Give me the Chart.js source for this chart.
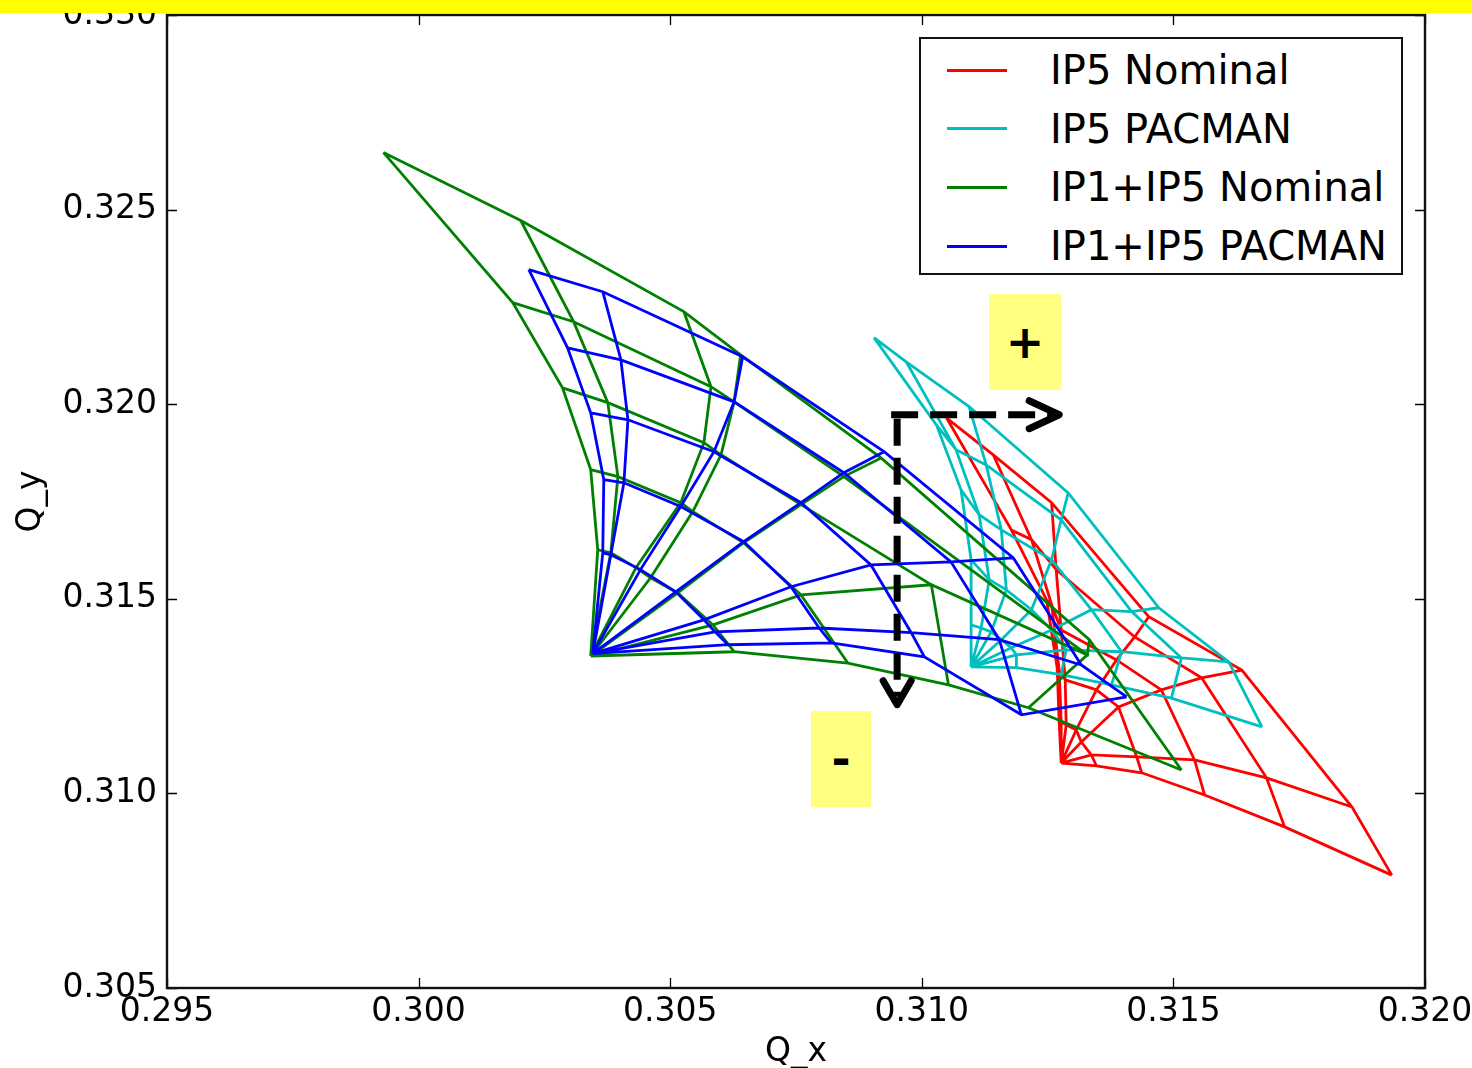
<!DOCTYPE html>
<html>
<head>
<meta charset="utf-8">
<script src="https://cdn.jsdelivr.net/npm/chart.js@4.4.1/dist/chart.umd.min.js"></script>
<style>
  html, body { margin: 0; padding: 0; background: #fff; }
  #wrap { position: relative; width: 1472px; height: 1068px; font-family: "DejaVu Sans", sans-serif; }
  #topband { position: absolute; left: 0; top: 0; width: 1472px; height: 13px; background: #ffff00; }
  .note { position: absolute; background: #ffff80; color: #000; font: bold 46px "DejaVu Sans", sans-serif;
          display: flex; align-items: center; justify-content: center; }
  #legend { position: absolute; left: 919px; top: 37px; width: 480px; height: 234px;
            border: 2px solid #111; background: #fff; }
  .row { position: absolute; left: 0; height: 56px; display: flex; align-items: center; }
  .row .swatch { width: 60px; height: 3px; margin-left: 26px; }
  .row .label { margin-left: 43px; font-size: 40px; color: #000; white-space: nowrap; }
</style>
</head>
<body>
<div id="wrap">
  <canvas id="tuneChart" width="1472" height="1068"></canvas>
  <div id="legend"></div>
  <div id="topband"></div>
  <div class="note" style="left:989px;top:294px;width:72px;height:96px;">+</div>
  <div class="note" style="left:811px;top:711px;width:60px;height:96px;">-</div>
</div>
<script>
// tune footprints: rows = amplitude rings (small -> large), columns = angle rays
const seriesNames = ['IP5 Nominal', 'IP5 PACMAN', 'IP1+IP5 Nominal', 'IP1+IP5 PACMAN'];
const seriesColors = ['#ff0000', '#00bfbf', '#008000', '#0000ff'];

const xTicks = [0.295, 0.300, 0.305, 0.310, 0.315, 0.320];
const yTicks = [0.305, 0.310, 0.315, 0.320, 0.325, 0.330];

// IP5 Nominal (red)
const ip5NomOrigin = [0.31277, 0.31078];
const ip5NomQx = [
  [0.31273, 0.31277, 0.31287, 0.31307, 0.31317, 0.31337, 0.31347],
  [0.31269, 0.31273, 0.31285, 0.31347, 0.31391, 0.31427, 0.31437],
  [0.31248, 0.31258, 0.31277, 0.31387, 0.31476, 0.31542, 0.31562],
  [0.31178, 0.31218, 0.31267, 0.31423, 0.31556, 0.31685, 0.31721],
  [0.31049, 0.31142, 0.31258, 0.31451, 0.31636, 0.31855, 0.31934]
];
const ip5NomQy = [
  [0.31184, 0.31184, 0.31176, 0.31163, 0.31132, 0.31099, 0.31071],
  [0.31323, 0.31317, 0.31292, 0.31266, 0.31222, 0.31094, 0.31053],
  [0.31497, 0.31485, 0.31420, 0.31343, 0.31266, 0.31086, 0.30996],
  [0.31677, 0.31652, 0.31575, 0.31402, 0.31297, 0.31040, 0.30914],
  [0.31965, 0.31870, 0.31747, 0.31454, 0.31317, 0.30965, 0.30790]
];

// IP5 PACMAN (cyan)
const ip5PacOrigin = [0.31098, 0.31325];
const ip5PacQx = [
  [0.31098, 0.31118, 0.31138, 0.31158, 0.31178, 0.31188, 0.31188],
  [0.31098, 0.31134, 0.31168, 0.31218, 0.31258, 0.31287, 0.31277],
  [0.31078, 0.31114, 0.31158, 0.31258, 0.31337, 0.31397, 0.31377],
  [0.31029, 0.31068, 0.31128, 0.31277, 0.31417, 0.31516, 0.31496],
  [0.30905, 0.30969, 0.31094, 0.31291, 0.31471, 0.31610, 0.31676]
];
const ip5PacQy = [
  [0.31433, 0.31425, 0.31415, 0.31395, 0.31374, 0.31356, 0.31323],
  [0.31600, 0.31549, 0.31523, 0.31472, 0.31420, 0.31369, 0.31305],
  [0.31780, 0.31716, 0.31677, 0.31600, 0.31472, 0.31364, 0.31279],
  [0.31947, 0.31883, 0.31844, 0.31703, 0.31467, 0.31348, 0.31245],
  [0.32171, 0.32109, 0.31994, 0.31772, 0.31477, 0.31338, 0.31171]
];

// IP1+IP5 Nominal (green)
const bothNomOrigin = [0.30342, 0.31353];
const bothNomQx = [
  [0.30356, 0.30382, 0.30432, 0.30461, 0.30515, 0.30585, 0.30627],
  [0.30342, 0.30396, 0.30521, 0.30545, 0.30646, 0.30760, 0.30853],
  [0.30286, 0.30376, 0.30567, 0.30601, 0.30760, 0.31019, 0.31053],
  [0.30187, 0.30308, 0.30581, 0.30627, 0.30845, 0.31329, 0.31212],
  [0.29930, 0.30203, 0.30527, 0.30640, 0.30919, 0.31333, 0.31516]
];
const bothNomQy = [
  [0.31626, 0.31618, 0.31580, 0.31554, 0.31515, 0.31433, 0.31364],
  [0.31832, 0.31814, 0.31747, 0.31724, 0.31644, 0.31510, 0.31335],
  [0.32042, 0.32004, 0.31901, 0.31870, 0.31742, 0.31536, 0.31279],
  [0.32261, 0.32212, 0.32045, 0.32006, 0.31814, 0.31356, 0.31220],
  [0.32647, 0.32472, 0.32238, 0.32127, 0.31862, 0.31395, 0.31060]
];

// IP1+IP5 PACMAN (blue)
const bothPacOrigin = [0.30346, 0.31359];
const bothPacQx = [
  [0.30366, 0.30382, 0.30441, 0.30511, 0.30567, 0.30589, 0.30615],
  [0.30368, 0.30408, 0.30521, 0.30646, 0.30740, 0.30796, 0.30820],
  [0.30342, 0.30416, 0.30587, 0.30760, 0.30899, 0.30979, 0.31005],
  [0.30296, 0.30402, 0.30627, 0.30845, 0.31058, 0.31154, 0.31198],
  [0.30219, 0.30366, 0.30644, 0.30925, 0.31182, 0.31317, 0.31407]
];
const bothPacQy = [
  [0.31618, 0.31613, 0.31575, 0.31518, 0.31446, 0.31415, 0.31382],
  [0.31806, 0.31798, 0.31737, 0.31647, 0.31531, 0.31425, 0.31387],
  [0.31978, 0.31960, 0.31878, 0.31747, 0.31587, 0.31413, 0.31351],
  [0.32145, 0.32114, 0.32006, 0.31824, 0.31595, 0.31395, 0.31202],
  [0.32346, 0.32289, 0.32122, 0.31878, 0.31605, 0.31330, 0.31248]
];

// dashed annotation arrows (data coordinates)
const arrowCorner = [0.30951, 0.31973];
const arrowDown = [0.30951, 0.31228];
const arrowRight = [0.31273, 0.31973];

// one polyline per ray (from origin) and per amplitude ring, separated by gaps
function meshPoints(origin, qx, qy) {
  const pts = [];
  const nRays = qx[0].length;
  for (let j = 0; j < nRays; j++) {
    pts.push({x: origin[0], y: origin[1]});
    for (let i = 0; i < qx.length; i++) pts.push({x: qx[i][j], y: qy[i][j]});
    pts.push({x: null, y: null});
  }
  for (let i = 0; i < qx.length; i++) {
    for (let j = 0; j < nRays; j++) pts.push({x: qx[i][j], y: qy[i][j]});
    pts.push({x: null, y: null});
  }
  return pts;
}

const meshes = [
  meshPoints(ip5NomOrigin, ip5NomQx, ip5NomQy),
  meshPoints(ip5PacOrigin, ip5PacQx, ip5PacQy),
  meshPoints(bothNomOrigin, bothNomQx, bothNomQy),
  meshPoints(bothPacOrigin, bothPacQx, bothPacQy)
];

const datasets = meshes.map((pts, k) => ({
  label: seriesNames[k],
  data: pts,
  showLine: true,
  spanGaps: false,
  borderColor: seriesColors[k],
  backgroundColor: seriesColors[k],
  borderWidth: 2.8,
  pointRadius: 0,
  order: 4 - k
}));

// axes frame with inward ticks on all four sides (matplotlib look)
const frameTicks = {
  id: 'frameTicks',
  afterDatasetsDraw(chart) {
    const {ctx, chartArea: a, scales: {x, y}} = chart;
    ctx.save();
    ctx.strokeStyle = '#000';
    ctx.lineWidth = 1.3;
    ctx.beginPath();
    xTicks.forEach(v => {
      const px = Math.round(x.getPixelForValue(v)) + 0.5;
      ctx.moveTo(px, a.bottom); ctx.lineTo(px, a.bottom - 10);
      ctx.moveTo(px, a.top); ctx.lineTo(px, a.top + 10);
    });
    yTicks.forEach(v => {
      const py = Math.round(y.getPixelForValue(v)) + 0.5;
      ctx.moveTo(a.left, py); ctx.lineTo(a.left + 10, py);
      ctx.moveTo(a.right, py); ctx.lineTo(a.right - 10, py);
    });
    ctx.stroke();
    ctx.lineWidth = 2.4;
    ctx.strokeStyle = '#111';
    ctx.strokeRect(a.left, a.top, a.right - a.left, a.bottom - a.top);
    ctx.restore();
  }
};

const arrows = {
  id: 'arrows',
  afterDraw(chart) {
    const {ctx, scales: {x, y}} = chart;
    const cx = x.getPixelForValue(arrowCorner[0]);
    const cy = y.getPixelForValue(arrowCorner[1]);
    const dy = y.getPixelForValue(arrowDown[1]);
    const rx = x.getPixelForValue(arrowRight[0]);
    ctx.save();
    ctx.strokeStyle = '#000';
    ctx.lineWidth = 7;
    ctx.setLineDash([27, 12]);
    ctx.beginPath();
    ctx.moveTo(cx - 6, cy); ctx.lineTo(rx - 8, cy);
    ctx.moveTo(cx, cy + 4); ctx.lineTo(cx, dy - 8);
    ctx.stroke();
    ctx.setLineDash([]);
    ctx.lineCap = 'round';
    ctx.lineJoin = 'round';
    ctx.beginPath();
    ctx.moveTo(rx - 30, cy - 14); ctx.lineTo(rx, cy); ctx.lineTo(rx - 30, cy + 14);
    ctx.moveTo(cx - 14, dy - 24); ctx.lineTo(cx, dy); ctx.lineTo(cx + 14, dy - 24);
    ctx.stroke();
    ctx.restore();
  }
};

const tickFont = {family: '"DejaVu Sans", sans-serif', size: 33};

new Chart(document.getElementById('tuneChart'), {
  type: 'scatter',
  data: {datasets: datasets},
  options: {
    responsive: false,
    animation: false,
    layout: {padding: {left: 0, right: 47, top: 15, bottom: 0}},
    plugins: {legend: {display: false}, tooltip: {enabled: false}},
    scales: {
      x: {
        type: 'linear', min: 0.295, max: 0.320,
        afterBuildTicks: s => { s.ticks = xTicks.map(v => ({value: v})); },
        afterFit: s => { s.height = 80; s.paddingLeft = 0; s.paddingRight = 0; },
        grid: {display: false, drawTicks: false},
        border: {display: false},
        ticks: {font: tickFont, color: '#000', padding: 5, maxRotation: 0, autoSkip: false,
                callback: v => v.toFixed(3)},
        title: {display: true, text: 'Q_x', font: tickFont, color: '#000', padding: {top: 0, bottom: -4}}
      },
      y: {
        type: 'linear', min: 0.305, max: 0.330,
        afterBuildTicks: s => { s.ticks = yTicks.map(v => ({value: v})); },
        afterFit: s => { s.width = 167; s.paddingTop = 0; s.paddingBottom = 0; },
        grid: {display: false, drawTicks: false},
        border: {display: false},
        ticks: {font: tickFont, color: '#000', padding: 10, autoSkip: false,
                callback: v => v.toFixed(3)},
        title: {display: true, text: 'Q_y', font: tickFont, color: '#000', padding: {top: 12, bottom: 0}}
      }
    }
  },
  plugins: [frameTicks, arrows]
});

// legend box built from the datasets
const legend = document.getElementById('legend');
seriesNames.forEach((name, k) => {
  const row = document.createElement('div');
  row.className = 'row';
  row.style.top = (3 + k * 58.7) + 'px';
  row.innerHTML = '<div class="swatch" style="background:' + seriesColors[k] + '"></div>' +
                  '<div class="label">' + name + '</div>';
  legend.appendChild(row);
});
</script>
</body>
</html>
